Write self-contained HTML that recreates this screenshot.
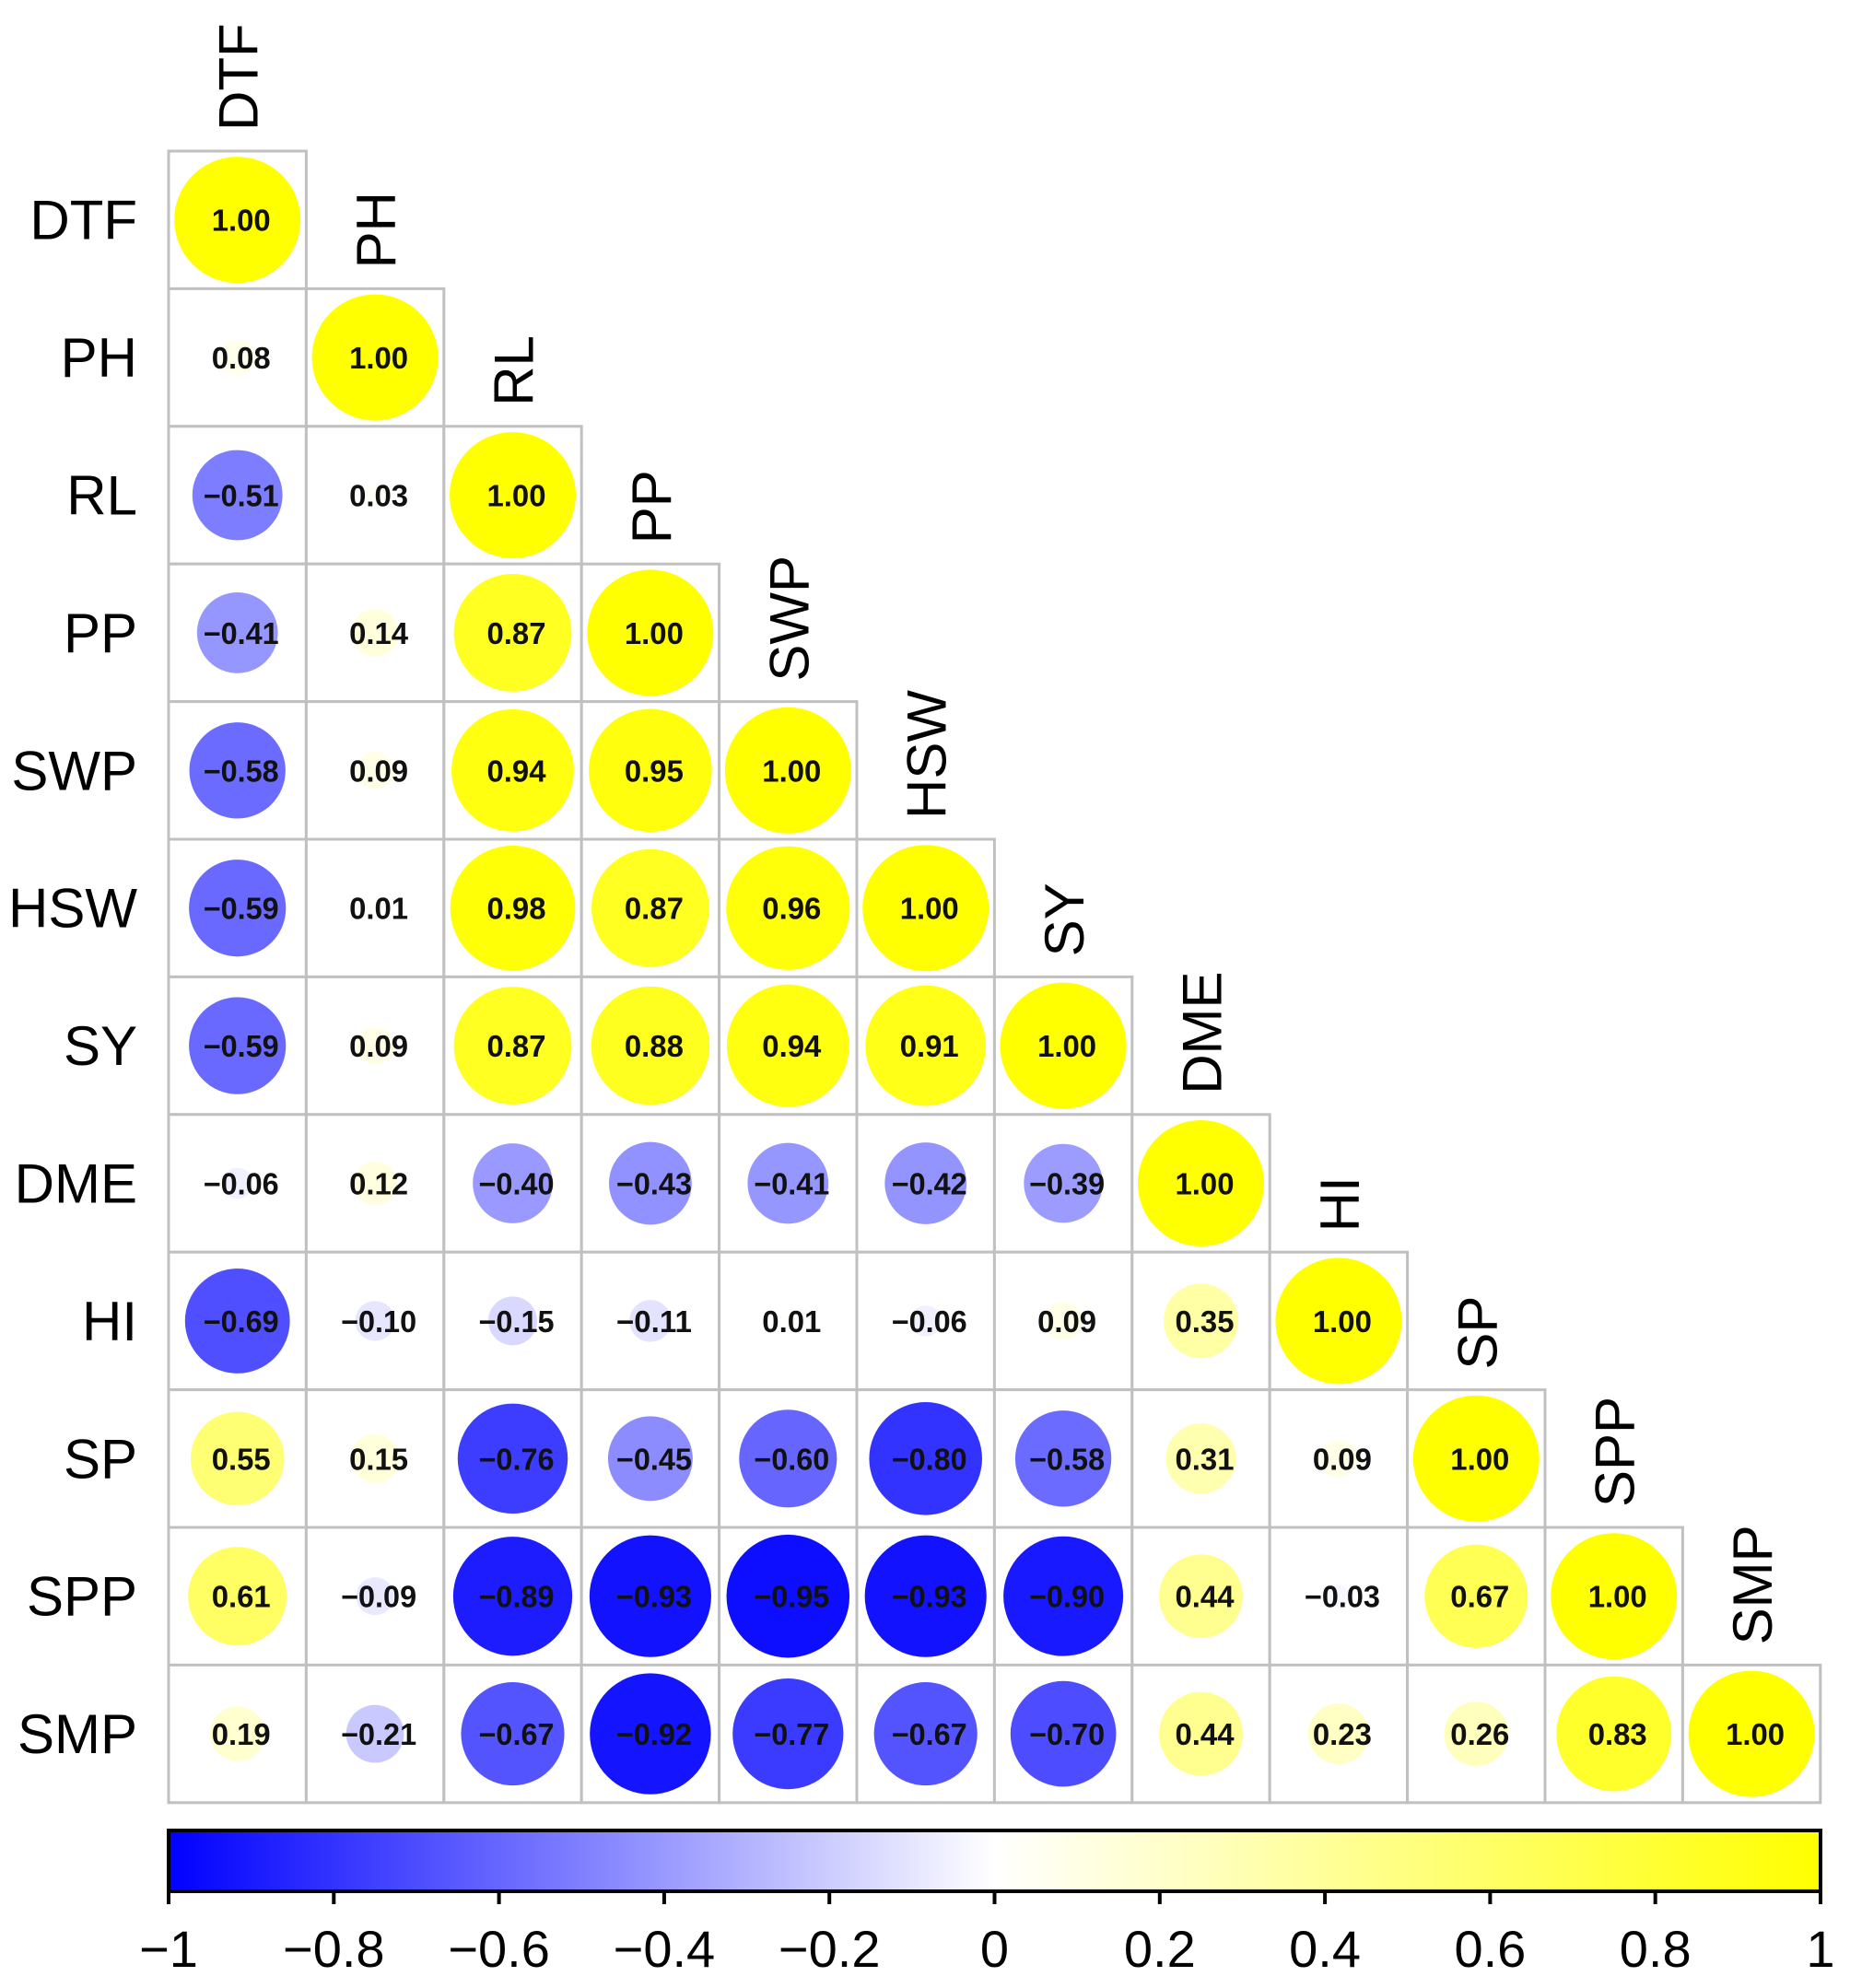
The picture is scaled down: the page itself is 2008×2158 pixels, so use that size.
<!DOCTYPE html>
<html><head><meta charset="utf-8"><style>
html,body{margin:0;padding:0;background:#fff}
svg{display:block}
</style></head><body>
<svg id="chart" width="2008" height="2158" viewBox="0 0 2008 2158" xmlns="http://www.w3.org/2000/svg">
<defs>
<linearGradient id="cbgrad" x1="0" x2="1" y1="0" y2="0">
<stop offset="0" stop-color="#0000ff"/><stop offset="0.5" stop-color="#ffffff"/><stop offset="1" stop-color="#ffff00"/>
</linearGradient>
</defs>
<g id="cells"></g><g id="labels"></g><g id="colorbar"></g>
</svg>
<script>
const variables = ["DTF","PH","RL","PP","SWP","HSW","SY","DME","HI","SP","SPP","SMP"];
const rowDTF = [1.00];
const rowPH  = [0.08,1.00];
const rowRL  = [-0.51,0.03,1.00];
const rowPP  = [-0.41,0.14,0.87,1.00];
const rowSWP = [-0.58,0.09,0.94,0.95,1.00];
const rowHSW = [-0.59,0.01,0.98,0.87,0.96,1.00];
const rowSY  = [-0.59,0.09,0.87,0.88,0.94,0.91,1.00];
const rowDME = [-0.06,0.12,-0.40,-0.43,-0.41,-0.42,-0.39,1.00];
const rowHI  = [-0.69,-0.10,-0.15,-0.11,0.01,-0.06,0.09,0.35,1.00];
const rowSP  = [0.55,0.15,-0.76,-0.45,-0.60,-0.80,-0.58,0.31,0.09,1.00];
const rowSPP = [0.61,-0.09,-0.89,-0.93,-0.95,-0.93,-0.90,0.44,-0.03,0.67,1.00];
const rowSMP = [0.19,-0.21,-0.67,-0.92,-0.77,-0.67,-0.70,0.44,0.23,0.26,0.83,1.00];
const matrix = [rowDTF,rowPH,rowRL,rowPP,rowSWP,rowHSW,rowSY,rowDME,rowHI,rowSP,rowSPP,rowSMP];
const tickValues = [-1,-0.8,-0.6,-0.4,-0.2,0,0.2,0.4,0.6,0.8,1];
const tickLabels = ["\u22121","\u22120.8","\u22120.6","\u22120.4","\u22120.2","0","0.2","0.4","0.6","0.8","1"];

const NS="http://www.w3.org/2000/svg";
const X0=183, Y0=164, CS=149.4, RMAX=68.5;
const cbX0=183, cbX1=1976, cbY=1987, cbH=66;
function xPos(j){return X0+j*CS;}
function yPos(i){return Y0+i*CS;}
function cbScale(v){return cbX0+(v+1)/2*(cbX1-cbX0);}
function colorOf(r){
  const t=Math.min(1,Math.abs(r));
  if(r<0){const c=Math.round(255*(1-t));return `rgb(${c},${c},255)`;}
  const c=Math.round(255*(1-t));return `rgb(255,255,${c})`;
}
function mk(tag,attrs,parent){const e=document.createElementNS(NS,tag);for(const k in attrs)e.setAttribute(k,attrs[k]);parent.appendChild(e);return e;}
const cells=document.getElementById('cells'), labels=document.getElementById('labels'), cb=document.getElementById('colorbar');
matrix.forEach((row,i)=>{
  row.forEach((r,j)=>{
    const g=mk('g',{},cells);
    
    
    mk('rect',{x:xPos(j),y:yPos(i),width:CS,height:CS,fill:'#fff',stroke:'#c0c0c0','stroke-width':3},g);
    const c=mk('circle',{cx:xPos(j)+CS/2,cy:yPos(i)+CS/2,r:RMAX*Math.sqrt(Math.abs(r)),fill:colorOf(r)},g);
    
    
    const t=mk('text',{x:xPos(j)+CS/2+4,y:yPos(i)+CS/2+12,'text-anchor':'middle','font-family':'Liberation Sans, sans-serif','font-size':33,'font-weight':'bold',fill:'#111',textLength:r<0?82:64,lengthAdjust:'spacingAndGlyphs'},g);
    t.textContent=(r<0?'\u2212':'')+Math.abs(r).toFixed(2);
    
    
  });
});
variables.forEach((v,i)=>{
  const t=mk('text',{x:149,y:yPos(i)+CS/2+21,'text-anchor':'end','font-family':'Liberation Sans, sans-serif','font-size':60,fill:'#000'},labels);
  t.textContent=v;
  
  
  const cx=xPos(i)+CS/2+22, by=yPos(i)-22;
  const c=mk('text',{x:cx,y:by,transform:`rotate(-90 ${cx} ${by})`,'text-anchor':'start','font-family':'Liberation Sans, sans-serif','font-size':60,fill:'#000'},labels);
  c.textContent=v;
  
  
});
const bar=mk('rect',{x:cbX0,y:cbY,width:cbX1-cbX0,height:cbH,fill:'url(#cbgrad)',stroke:'#000','stroke-width':4},cb);


tickValues.forEach((v,k)=>{
  const x=cbScale(v);
  const l=mk('line',{x1:x,x2:x,y1:cbY+cbH,y2:cbY+cbH+14,stroke:'#000','stroke-width':4},cb);
  
  
  const t=mk('text',{x:x,y:2135,'text-anchor':'middle','font-family':'Liberation Sans, sans-serif','font-size':56,fill:'#000'},cb);
  t.textContent=tickLabels[k];
  
  
});
</script>
</body></html>
